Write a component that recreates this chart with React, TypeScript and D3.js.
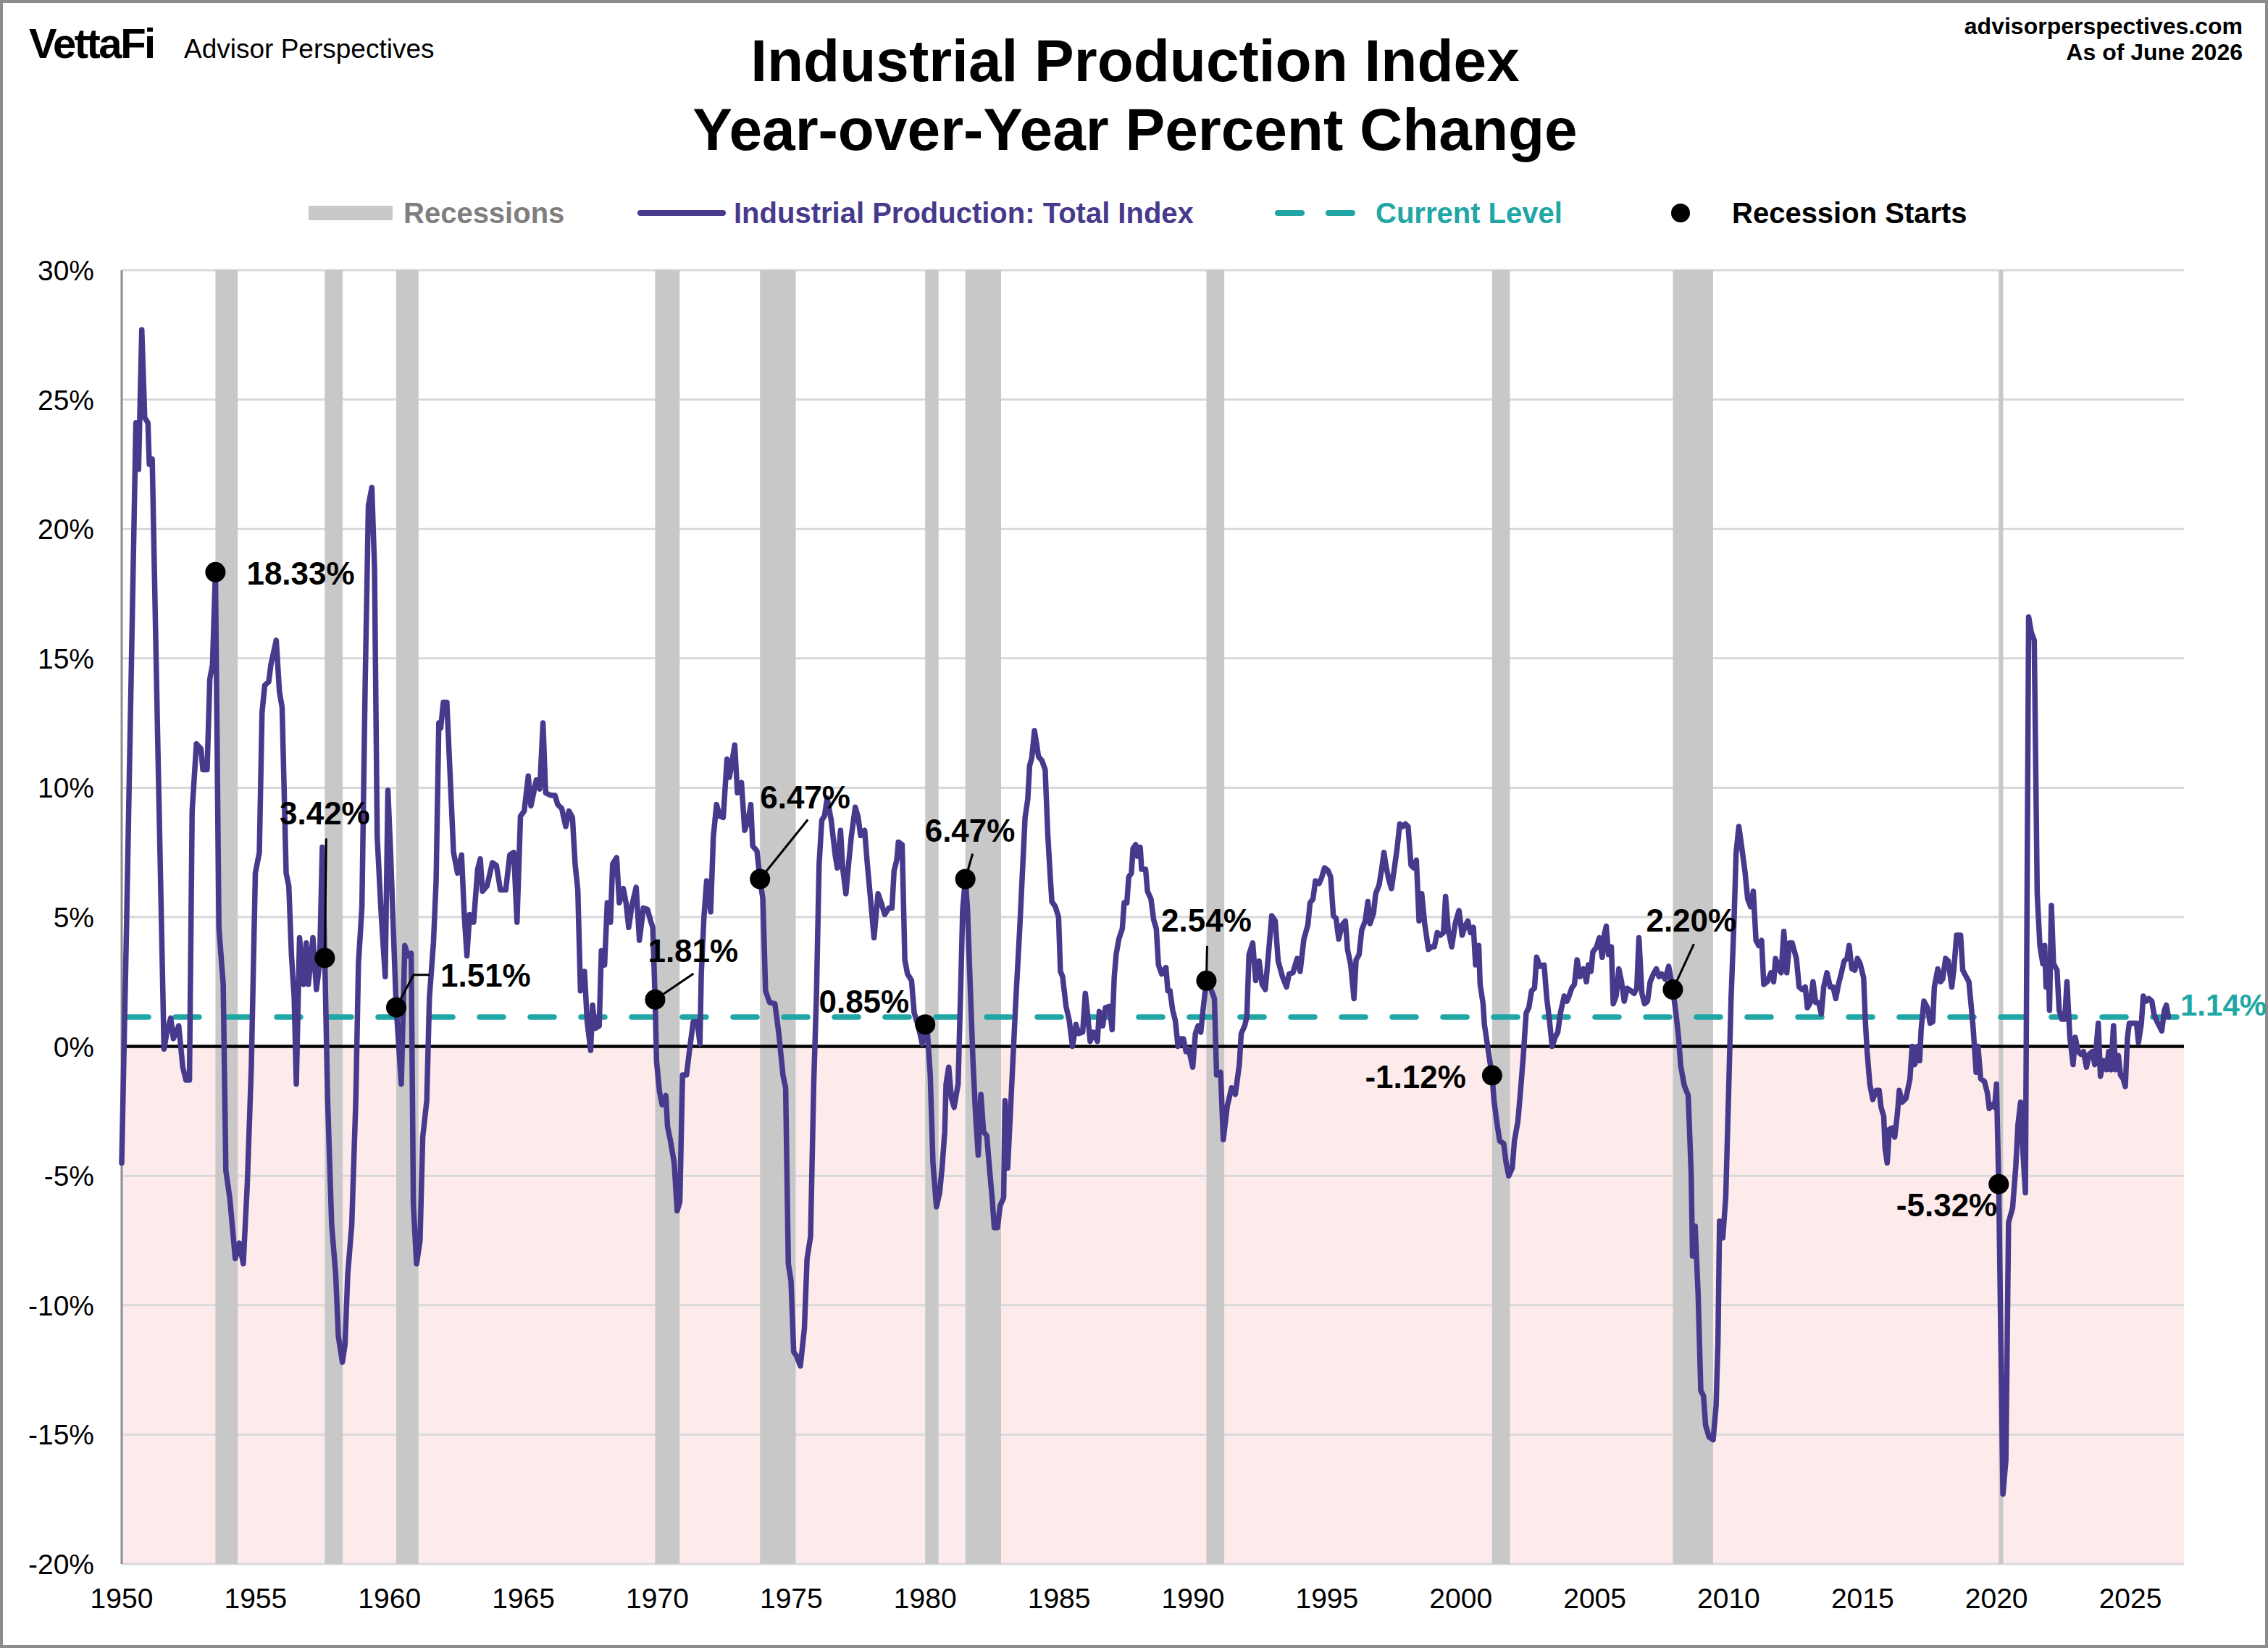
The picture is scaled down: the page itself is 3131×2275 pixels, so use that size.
import React, { useEffect, useRef } from 'react';
import * as d3 from 'd3';

type Pt = [number, number];

// Industrial Production YoY % (decimal year, percent)
const ip1950s: Pt[] = [
  [1950.0, -4.5], [1950.18, 4.6], [1950.53, 24.1], [1950.63, 22.3], [1950.75, 27.7], [1950.86, 24.3],
  [1950.98, 24.1], [1951.03, 22.5], [1951.14, 22.7], [1951.33, 12.6], [1951.58, -0.1], [1951.69, 0.55],
  [1951.83, 1.1], [1951.93, 0.3], [1952.13, 0.8], [1952.28, -0.8], [1952.4, -1.3], [1952.53, -1.3],
  [1952.63, 9.1], [1952.79, 11.7], [1952.96, 11.5], [1953.03, 10.7], [1953.19, 10.7], [1953.29, 14.2],
  [1953.39, 14.75], [1953.5, 18.33], [1953.63, 4.6], [1953.79, 2.4], [1953.89, -4.8], [1954.04, -5.9],
  [1954.24, -8.2], [1954.39, -7.6], [1954.54, -8.4], [1954.69, -5.3], [1954.84, -0.8], [1954.99, 6.7],
  [1955.14, 7.5], [1955.24, 12.9], [1955.34, 13.95], [1955.49, 14.1], [1955.57, 14.75], [1955.77, 15.7],
  [1955.89, 13.7], [1955.99, 13.1], [1956.14, 6.7], [1956.24, 6.2], [1956.34, 3.5], [1956.44, 1.9],
  [1956.52, -1.45], [1956.64, 4.2], [1956.79, 2.4], [1956.89, 4.0], [1956.97, 2.4], [1957.14, 4.2],
  [1957.27, 2.2], [1957.39, 3.2], [1957.49, 7.7], [1957.583, 3.42], [1957.69, -2.1], [1957.84, -6.9],
  [1957.99, -8.8], [1958.09, -11.2], [1958.24, -12.2], [1958.34, -11.5], [1958.44, -8.8], [1958.59, -6.9],
  [1958.74, -2.1], [1958.84, 3.2], [1958.97, 5.4], [1959.09, 13.95], [1959.21, 20.9], [1959.34, 21.6],
  [1959.44, 18.5], [1959.54, 8.1], [1959.69, 5.1], [1959.84, 2.7], [1959.94, 9.9],
];

const ip1960s: Pt[] = [
  [1960.04, 7.5], [1960.14, 4.6], [1960.25, 1.51], [1960.44, -1.45], [1960.57, 3.9], [1960.69, 3.5],
  [1960.81, 3.6], [1960.89, -6.1], [1961.01, -8.4], [1961.14, -7.5], [1961.24, -3.5], [1961.39, -2.1],
  [1961.49, 1.9], [1961.64, 4.0], [1961.74, 6.4], [1961.84, 12.5], [1961.91, 12.3], [1962.01, 13.3],
  [1962.14, 13.3], [1962.24, 11.0], [1962.39, 7.5], [1962.54, 6.7], [1962.69, 7.4], [1962.79, 5.1],
  [1962.89, 3.5], [1962.99, 5.1], [1963.14, 4.8], [1963.29, 6.85], [1963.39, 7.25], [1963.47, 6.0],
  [1963.64, 6.2], [1963.84, 7.1], [1963.99, 7.0], [1964.14, 6.05], [1964.34, 6.05], [1964.49, 7.4],
  [1964.64, 7.5], [1964.76, 4.8], [1964.89, 8.9], [1965.03, 9.1], [1965.18, 10.45], [1965.28, 9.3],
  [1965.48, 10.3], [1965.61, 9.95], [1965.73, 12.5], [1965.83, 9.8], [1966.03, 9.7], [1966.18, 9.7],
  [1966.28, 9.35], [1966.43, 9.2], [1966.58, 8.5], [1966.7, 9.1], [1966.83, 8.85], [1966.93, 7.05],
  [1967.03, 6.05], [1967.13, 2.15], [1967.28, 2.9], [1967.38, 0.95], [1967.51, -0.15], [1967.58, 1.6],
  [1967.68, 0.7], [1967.83, 0.8], [1967.91, 3.7], [1968.03, 3.15], [1968.13, 5.55], [1968.25, 4.8],
  [1968.33, 7.05], [1968.48, 7.3], [1968.58, 5.55], [1968.73, 6.1], [1968.83, 5.55], [1968.93, 4.6],
  [1969.05, 5.45], [1969.21, 6.15], [1969.33, 4.1], [1969.48, 5.35], [1969.63, 5.3], [1969.75, 4.85],
  [1969.83, 4.6], [1969.917, 1.81],
];

const ip1970s: Pt[] = [
  [1969.97, -0.57], [1970.08, -1.75], [1970.18, -2.25], [1970.32, -1.9], [1970.38, -3.1], [1970.48, -3.6],
  [1970.63, -4.5], [1970.74, -6.35], [1970.84, -6.0], [1970.94, -1.1], [1971.09, -1.1], [1971.19, -0.23],
  [1971.34, 0.95], [1971.49, 0.95], [1971.59, 0.1], [1971.64, 2.8], [1971.74, 5.0], [1971.84, 6.4],
  [1971.99, 5.2], [1972.09, 8.1], [1972.21, 9.35], [1972.33, 8.9], [1972.46, 8.85], [1972.6, 11.1],
  [1972.69, 10.4], [1972.78, 10.95], [1972.89, 11.65], [1972.99, 9.8], [1973.14, 10.2], [1973.26, 8.35],
  [1973.39, 8.75], [1973.49, 9.35], [1973.56, 7.75], [1973.72, 7.55], [1973.833, 6.47], [1973.94, 5.7],
  [1974.04, 2.15], [1974.19, 1.7], [1974.39, 1.65], [1974.54, 0.45], [1974.69, -1.1], [1974.79, -1.6],
  [1974.89, -8.4], [1974.99, -9.05], [1975.09, -11.8], [1975.19, -11.95], [1975.34, -12.35], [1975.49, -10.9],
  [1975.59, -8.2], [1975.72, -7.35], [1975.84, -1.4], [1975.94, 1.95], [1976.04, 7.05], [1976.14, 8.75],
  [1976.24, 8.9], [1976.34, 9.6], [1976.49, 8.75], [1976.64, 7.4], [1976.72, 6.9], [1976.84, 8.35],
  [1976.92, 6.9], [1977.04, 5.9], [1977.14, 7.05], [1977.24, 8.1], [1977.39, 9.25], [1977.49, 8.9],
  [1977.59, 8.15], [1977.74, 8.35], [1977.84, 7.05], [1977.96, 5.7], [1978.09, 4.2], [1978.24, 5.9],
  [1978.36, 5.55], [1978.49, 5.1], [1978.64, 5.35], [1978.76, 5.35], [1978.84, 6.8], [1978.94, 7.2],
  [1979.0, 7.9], [1979.14, 7.8], [1979.24, 3.35], [1979.34, 2.8], [1979.49, 2.55], [1979.59, 1.3],
  [1979.74, 0.8], [1979.89, 0.1],
];

const ip1980s: Pt[] = [
  [1980.0, 0.85], [1980.09, 0.45], [1980.19, -1.1], [1980.29, -4.5], [1980.42, -6.2], [1980.54, -5.65],
  [1980.63, -4.7], [1980.73, -3.3], [1980.78, -1.45], [1980.88, -0.8], [1980.98, -2.0], [1981.08, -2.35],
  [1981.23, -1.45], [1981.33, 2.4], [1981.4, 5.3], [1981.5, 6.47], [1981.58, 5.3], [1981.68, 2.4],
  [1981.78, -0.45], [1981.88, -2.6], [1981.98, -4.2], [1982.08, -1.85], [1982.18, -3.3], [1982.3, -3.45],
  [1982.4, -4.7], [1982.5, -5.85], [1982.58, -7.0], [1982.7, -7.0], [1982.8, -6.15], [1982.93, -5.85],
  [1982.98, -2.1], [1983.08, -4.7], [1983.18, -2.6], [1983.28, -0.45], [1983.38, 1.7], [1983.53, 4.55],
  [1983.63, 6.7], [1983.73, 8.85], [1983.83, 9.55], [1983.9, 10.85], [1983.98, 11.15], [1984.08, 12.2],
  [1984.16, 11.7], [1984.23, 11.2], [1984.36, 11.05], [1984.48, 10.7], [1984.58, 8.15], [1984.68, 6.4],
  [1984.73, 5.6], [1984.86, 5.4], [1984.98, 5.0], [1985.05, 2.9], [1985.13, 2.7], [1985.26, 1.55],
  [1985.38, 1.0], [1985.5, 0.0], [1985.63, 0.85], [1985.73, 0.5], [1985.88, 0.55], [1985.98, 2.05],
  [1986.05, 1.4], [1986.16, 0.2], [1986.28, 0.55], [1986.43, 0.2], [1986.5, 1.35], [1986.63, 0.8],
  [1986.73, 1.5], [1986.88, 1.55], [1986.98, 0.65], [1987.06, 2.7], [1987.13, 3.55], [1987.23, 4.15],
  [1987.36, 4.55], [1987.43, 5.55], [1987.53, 5.55], [1987.6, 6.55], [1987.7, 6.7], [1987.76, 7.65],
  [1987.86, 7.8], [1987.93, 7.35], [1988.03, 7.7], [1988.08, 6.85], [1988.23, 6.85], [1988.3, 6.0],
  [1988.43, 5.7], [1988.53, 4.9], [1988.63, 4.55], [1988.71, 3.15], [1988.83, 2.8], [1988.99, 3.05],
  [1989.06, 2.15], [1989.14, 2.15], [1989.24, 1.4], [1989.34, 1.0], [1989.44, 0.0], [1989.54, 0.3],
  [1989.64, 0.3], [1989.74, -0.2], [1989.84, -0.1], [1989.99, -0.8],
];

const ip1990s: Pt[] = [
  [1990.09, 0.5], [1990.19, 0.8], [1990.29, 0.55], [1990.39, 1.55], [1990.5, 2.54], [1990.64, 2.3],
  [1990.8, 1.85], [1990.88, -1.1], [1991.03, -1.0], [1991.13, -3.6], [1991.28, -2.3], [1991.44, -1.6],
  [1991.58, -1.85], [1991.73, -0.7], [1991.8, 0.5], [1991.93, 0.8], [1992.01, 1.15], [1992.09, 3.55],
  [1992.23, 4.0], [1992.34, 2.55], [1992.47, 3.3], [1992.58, 2.4], [1992.7, 2.2], [1992.84, 3.85],
  [1992.94, 5.05], [1993.07, 4.85], [1993.18, 3.3], [1993.34, 2.7], [1993.49, 2.3], [1993.59, 2.8],
  [1993.73, 2.85], [1993.89, 3.4], [1994.0, 2.9], [1994.14, 4.15], [1994.29, 4.7], [1994.37, 5.55],
  [1994.48, 5.7], [1994.57, 6.4], [1994.71, 6.3], [1994.81, 6.55], [1994.91, 6.9], [1995.04, 6.8],
  [1995.14, 6.55], [1995.24, 5.05], [1995.34, 4.95], [1995.44, 4.15], [1995.57, 4.7], [1995.69, 4.85],
  [1995.77, 3.75], [1995.89, 3.15], [1996.01, 1.85], [1996.09, 3.35], [1996.2, 3.55], [1996.3, 4.5],
  [1996.43, 4.85], [1996.53, 5.6], [1996.61, 4.75], [1996.74, 5.15], [1996.82, 5.9], [1996.95, 6.25],
  [1997.05, 6.9], [1997.13, 7.5], [1997.2, 7.0], [1997.31, 6.45], [1997.41, 6.1], [1997.52, 6.9],
  [1997.62, 7.65], [1997.72, 8.6], [1997.83, 8.5], [1997.93, 8.6], [1998.03, 8.5], [1998.14, 7.0],
  [1998.24, 6.9], [1998.34, 7.2], [1998.44, 4.85], [1998.54, 5.9], [1998.65, 4.75], [1998.79, 3.75],
  [1998.91, 3.85], [1999.01, 3.85], [1999.12, 4.4], [1999.24, 4.3], [1999.35, 4.4], [1999.43, 5.8],
  [1999.53, 4.5], [1999.66, 3.85], [1999.79, 4.75], [1999.93, 5.25],
];

const ip2000s: Pt[] = [
  [2000.05, 4.3], [2000.16, 4.65], [2000.26, 4.85], [2000.36, 4.4], [2000.47, 4.6], [2000.55, 3.15],
  [2000.67, 3.9], [2000.72, 2.4], [2000.83, 1.65], [2000.88, 0.85], [2000.98, 0.15], [2001.08, -0.55],
  [2001.167, -1.12], [2001.24, -2.1], [2001.34, -2.9], [2001.45, -3.65], [2001.6, -3.75], [2001.69, -4.5],
  [2001.79, -5.0], [2001.92, -4.7], [2002.0, -3.65], [2002.13, -2.9], [2002.23, -1.7], [2002.33, -0.4],
  [2002.44, 1.3], [2002.54, 1.5], [2002.64, 2.15], [2002.75, 2.25], [2002.83, 3.45], [2002.95, 3.1],
  [2003.11, 3.15], [2003.21, 1.85], [2003.31, 1.0], [2003.41, 0.0], [2003.52, 0.35], [2003.62, 0.55],
  [2003.72, 1.3], [2003.86, 1.95], [2003.96, 1.75], [2004.04, 1.95], [2004.14, 2.25], [2004.24, 2.4],
  [2004.34, 3.35], [2004.45, 2.7], [2004.58, 3.0], [2004.69, 2.5], [2004.76, 3.15], [2004.86, 2.9],
  [2004.93, 3.65], [2005.07, 3.85], [2005.17, 4.2], [2005.28, 3.45], [2005.35, 4.3], [2005.43, 4.65],
  [2005.51, 3.55], [2005.62, 3.85], [2005.69, 1.65], [2005.8, 1.95], [2005.9, 3.0], [2006.0, 2.5],
  [2006.1, 1.75], [2006.21, 2.25], [2006.35, 2.15], [2006.47, 2.05], [2006.57, 2.25], [2006.65, 4.2],
  [2006.76, 2.05], [2006.86, 1.65], [2006.97, 1.75], [2007.07, 2.5], [2007.19, 2.8], [2007.3, 3.0],
  [2007.4, 2.7], [2007.5, 2.8], [2007.63, 2.6], [2007.76, 3.1], [2007.917, 2.2], [2008.03, 1.3],
  [2008.13, 0.35], [2008.21, -0.75], [2008.34, -1.5], [2008.49, -1.9], [2008.6, -4.9], [2008.65, -8.1],
  [2008.75, -6.95], [2008.86, -9.6], [2008.96, -13.3], [2009.06, -13.5], [2009.14, -14.65], [2009.27, -15.1],
  [2009.42, -15.2], [2009.53, -13.9], [2009.6, -11.45], [2009.66, -6.75], [2009.78, -7.4], [2009.89, -5.85],
  [2009.99, -2.1],
];

const ip2010s: Pt[] = [
  [2010.09, 1.85], [2010.2, 4.85], [2010.28, 7.5], [2010.38, 8.5], [2010.5, 7.6], [2010.61, 6.75],
  [2010.71, 5.7], [2010.82, 5.4], [2010.92, 6.0], [2011.02, 4.1], [2011.12, 3.9], [2011.23, 4.1],
  [2011.31, 2.4], [2011.44, 2.5], [2011.58, 2.85], [2011.68, 2.5], [2011.75, 3.4], [2011.89, 2.95],
  [2011.96, 2.85], [2012.06, 4.45], [2012.17, 2.85], [2012.27, 4.0], [2012.37, 4.0], [2012.53, 3.4],
  [2012.63, 2.3], [2012.74, 2.2], [2012.86, 2.3], [2012.94, 1.5], [2013.05, 1.7], [2013.15, 2.5],
  [2013.25, 1.7], [2013.36, 1.7], [2013.46, 1.25], [2013.55, 2.3], [2013.67, 2.85], [2013.79, 2.3],
  [2013.9, 2.3], [2014.0, 1.85], [2014.1, 2.4], [2014.21, 2.85], [2014.31, 3.3], [2014.42, 3.4],
  [2014.5, 3.9], [2014.6, 3.0], [2014.71, 2.95], [2014.81, 3.4], [2014.91, 3.2], [2015.04, 2.65],
  [2015.1, 1.05], [2015.17, -0.2], [2015.27, -1.45], [2015.38, -2.05], [2015.51, -1.7], [2015.62, -1.7],
  [2015.69, -2.35], [2015.79, -2.7], [2015.84, -3.95], [2015.92, -4.5], [2016.0, -3.2], [2016.1, -3.15],
  [2016.2, -3.5], [2016.3, -2.6], [2016.37, -1.7], [2016.48, -2.15], [2016.62, -2.0], [2016.77, -1.25],
  [2016.85, 0.0], [2016.95, -0.7], [2017.06, 0.0], [2017.13, -0.55], [2017.19, 0.7], [2017.29, 1.75],
  [2017.42, 1.5], [2017.52, 0.9], [2017.62, 0.95], [2017.68, 2.3], [2017.81, 3.0], [2017.91, 2.5],
  [2017.99, 2.6], [2018.1, 3.4], [2018.2, 3.3], [2018.33, 2.3], [2018.41, 3.0], [2018.51, 4.3],
  [2018.66, 4.3], [2018.74, 2.95], [2018.84, 2.75], [2018.97, 2.5], [2019.07, 1.4], [2019.13, 0.7],
  [2019.24, -1.0], [2019.31, 0.0], [2019.41, -1.25], [2019.55, -1.35], [2019.66, -1.8], [2019.73, -2.4],
  [2019.83, -2.25], [2019.93, -2.35],
];

const ip2020s: Pt[] = [
  [2020.0, -1.45], [2020.083, -5.32], [2020.24, -17.3], [2020.35, -16.0], [2020.45, -6.8], [2020.6, -6.25],
  [2020.72, -4.65], [2020.8, -3.05], [2020.9, -2.15], [2020.98, -3.95], [2021.08, -5.65], [2021.2, 16.6],
  [2021.3, 16.0], [2021.41, 15.7], [2021.52, 5.9], [2021.62, 3.9], [2021.73, 3.2], [2021.8, 3.9],
  [2021.85, 2.3], [2021.93, 3.4], [2021.98, 1.4], [2022.05, 5.45], [2022.13, 3.2], [2022.26, 2.95],
  [2022.34, 1.4], [2022.44, 1.05], [2022.55, 1.05], [2022.63, 2.5], [2022.74, 0.35], [2022.86, -0.7],
  [2022.94, 0.35], [2023.05, -0.2], [2023.15, -0.3], [2023.25, -0.2], [2023.36, -0.8], [2023.46, -0.3],
  [2023.58, -0.2], [2023.67, -0.7], [2023.8, 0.9], [2023.88, -1.15], [2024.0, -0.55], [2024.11, -0.9],
  [2024.19, -0.2], [2024.27, -0.9], [2024.37, 0.8], [2024.44, -0.9], [2024.55, -0.35], [2024.63, -1.1],
  [2024.73, -1.25], [2024.81, -1.55], [2024.89, 0.35], [2024.96, 0.9], [2025.1, 0.9], [2025.23, 0.9],
  [2025.3, 0.15], [2025.41, 0.9], [2025.48, 1.95], [2025.59, 1.75], [2025.69, 1.85], [2025.8, 1.75],
  [2025.88, 1.25], [2026.0, 0.95], [2026.17, 0.6], [2026.27, 1.4], [2026.34, 1.6], [2026.42, 1.14],
];

// NBER recessions (start, end) in decimal years
const recessions: [number, number][] = [
  [1953.5, 1954.333], [1957.583, 1958.25], [1960.25, 1961.083], [1969.917, 1970.833],
  [1973.833, 1975.167], [1980.0, 1980.5], [1981.5, 1982.833], [1990.5, 1991.167],
  [2001.167, 2001.833], [2007.917, 2009.417], [2020.083, 2020.25],
];

const startDates = [1953.5, 1957.583, 1960.25, 1969.917, 1973.833, 1980.0, 1981.5, 1990.5, 2001.167, 2007.917, 2020.083];
const startValues = [18.33, 3.42, 1.51, 1.81, 6.47, 0.85, 6.47, 2.54, -1.12, 2.2, -5.32];

const currentLevel = 1.14;
const yTicks = [-20, -15, -10, -5, 0, 5, 10, 15, 20, 25, 30];
const xTicks = [1950, 1955, 1960, 1965, 1970, 1975, 1980, 1985, 1990, 1995, 2000, 2005, 2010, 2015, 2020, 2025];

// label placement relative to each dot (pixels)
const labelLayout: { dx: number; dy: number; anchor: string; leader?: [number, number][] }[] = [
  { dx: 43, dy: 17, anchor: 'start' },
  { dx: 0, dy: -184, anchor: 'middle', leader: [[0, 0], [2, -165]] },
  { dx: 61, dy: -29, anchor: 'start', leader: [[0, 0], [24, -45], [46, -45]] },
  { dx: -10, dy: -52, anchor: 'start', leader: [[0, 0], [53, -36]] },
  { dx: 0, dy: -97, anchor: 'start', leader: [[0, 0], [66, -82]] },
  { dx: -22, dy: -16, anchor: 'end' },
  { dx: -56, dy: -51, anchor: 'start', leader: [[0, 0], [10, -35]] },
  { dx: 0, dy: -68, anchor: 'middle', leader: [[0, 0], [1, -48]] },
  { dx: -36, dy: 17, anchor: 'end' },
  { dx: -37, dy: -80, anchor: 'start', leader: [[0, 0], [29, -63]] },
  { dx: -2, dy: 44, anchor: 'end' },
];

const PURPLE = '#47398c';
const TEAL = '#21a6a6';
const FONT = '"Liberation Sans", Arial, Helvetica, sans-serif';

const App = () => {
  const svgRef = useRef<SVGSVGElement | null>(null);

  useEffect(() => {
    document.body.style.margin = '0';
    if (!svgRef.current) return;
    const svg = d3.select(svgRef.current);
    svg.selectAll('*').remove();

    const width = 3131;
    const height = 2275;
    const plot = { left: 168, right: 3015, top: 373, bottom: 2159 };

    const x = d3.scaleLinear().domain([1950, 2027]).range([plot.left, plot.right]);
    const y = d3.scaleLinear().domain([-20, 30]).range([plot.bottom, plot.top]);

    const series: Pt[] = [...ip1950s, ...ip1960s, ...ip1970s, ...ip1980s, ...ip1990s, ...ip2000s, ...ip2010s, ...ip2020s];

    svg.append('rect').attr('width', width).attr('height', height).attr('fill', '#fff');
    svg.append('rect')
      .attr('x', 2).attr('y', 2).attr('width', width - 4).attr('height', height - 4)
      .attr('fill', 'none').attr('stroke', '#8c8c8c').attr('stroke-width', 4);

    // negative zone
    svg.append('rect')
      .attr('x', plot.left).attr('y', y(0))
      .attr('width', plot.right - plot.left).attr('height', y(-20) - y(0))
      .attr('fill', '#fdebeb');

    // gridlines
    svg.append('g').selectAll('line').data(yTicks).enter().append('line')
      .attr('x1', plot.left).attr('x2', plot.right)
      .attr('y1', d => y(d)).attr('y2', d => y(d))
      .attr('stroke', '#d9d9d9').attr('stroke-width', 3);

    // recession bars
    svg.append('g').selectAll('rect').data(recessions).enter().append('rect')
      .attr('x', d => x(d[0])).attr('width', d => x(d[1]) - x(d[0]))
      .attr('y', y(30)).attr('height', y(-20) - y(30))
      .attr('fill', '#c8c8c8');

    // left axis
    svg.append('line')
      .attr('x1', plot.left).attr('x2', plot.left).attr('y1', y(30)).attr('y2', y(-20))
      .attr('stroke', '#8c8c8c').attr('stroke-width', 3);

    // zero line
    svg.append('line')
      .attr('x1', plot.left).attr('x2', plot.right).attr('y1', y(0)).attr('y2', y(0))
      .attr('stroke', '#000').attr('stroke-width', 4.5);

    // current level
    svg.append('line')
      .attr('x1', plot.left + 4).attr('x2', plot.right).attr('y1', y(currentLevel)).attr('y2', y(currentLevel))
      .attr('stroke', TEAL).attr('stroke-width', 7.5)
      .attr('stroke-dasharray', '33 37').attr('stroke-linecap', 'round');

    svg.append('text')
      .attr('x', 3010).attr('y', y(currentLevel) - 2)
      .attr('font-family', FONT).attr('font-size', 42).attr('font-weight', 'bold')
      .attr('fill', TEAL).text(`${currentLevel.toFixed(2)}%`);

    // data line
    const line = d3.line<Pt>().x(d => x(d[0])).y(d => y(d[1]));
    svg.append('path')
      .datum(series)
      .attr('fill', 'none').attr('stroke', PURPLE).attr('stroke-width', 7.5)
      .attr('stroke-linejoin', 'round').attr('stroke-linecap', 'round')
      .attr('d', line);

    // recession start markers
    const marks = svg.append('g');
    startDates.forEach((date, i) => {
      const cx = x(date);
      const cy = y(startValues[i]);
      const lay = labelLayout[i];
      if (lay.leader) {
        marks.append('polyline')
          .attr('points', lay.leader.map(p => `${cx + p[0]},${cy + p[1]}`).join(' '))
          .attr('fill', 'none').attr('stroke', '#000').attr('stroke-width', 3);
      }
      marks.append('circle').attr('cx', cx).attr('cy', cy).attr('r', 14).attr('fill', '#000');
      marks.append('text')
        .attr('x', cx + lay.dx).attr('y', cy + lay.dy)
        .attr('text-anchor', lay.anchor)
        .attr('font-family', FONT).attr('font-size', 44).attr('font-weight', 'bold')
        .attr('fill', '#000')
        .text(`${startValues[i].toFixed(2)}%`);
    });

    // axis labels
    svg.append('g').selectAll('text').data(yTicks).enter().append('text')
      .attr('x', 130).attr('y', d => y(d) + 14)
      .attr('text-anchor', 'end')
      .attr('font-family', FONT).attr('font-size', 39).attr('fill', '#000')
      .text(d => `${d}%`);

    svg.append('g').selectAll('text').data(xTicks).enter().append('text')
      .attr('x', d => x(d)).attr('y', 2220)
      .attr('text-anchor', 'middle')
      .attr('font-family', FONT).attr('font-size', 39).attr('fill', '#000')
      .text(d => String(d));

    // title
    svg.append('text')
      .attr('x', 1567).attr('y', 112).attr('text-anchor', 'middle')
      .attr('font-family', FONT).attr('font-size', 82).attr('font-weight', 'bold')
      .text('Industrial Production Index');
    svg.append('text')
      .attr('x', 1567).attr('y', 207).attr('text-anchor', 'middle')
      .attr('font-family', FONT).attr('font-size', 82).attr('font-weight', 'bold')
      .text('Year-over-Year Percent Change');

    // header left
    svg.append('text')
      .attr('x', 40).attr('y', 80)
      .attr('font-family', FONT).attr('font-size', 58).attr('font-weight', 'bold')
      .attr('letter-spacing', -2.5)
      .text('VettaFi');
    svg.append('text')
      .attr('x', 254).attr('y', 80)
      .attr('font-family', FONT).attr('font-size', 37)
      .text('Advisor Perspectives');

    // header right
    svg.append('text')
      .attr('x', 3096).attr('y', 47).attr('text-anchor', 'end')
      .attr('font-family', FONT).attr('font-size', 32).attr('font-weight', 'bold')
      .text('advisorperspectives.com');
    svg.append('text')
      .attr('x', 3096).attr('y', 83).attr('text-anchor', 'end')
      .attr('font-family', FONT).attr('font-size', 32).attr('font-weight', 'bold')
      .text('As of June 2026');

    // legend
    const lg = svg.append('g').attr('font-family', FONT).attr('font-size', 40).attr('font-weight', 'bold');
    const ly = 294;
    lg.append('rect').attr('x', 426).attr('y', ly - 10).attr('width', 116).attr('height', 20).attr('fill', '#c8c8c8');
    lg.append('text').attr('x', 557).attr('y', ly + 14).attr('fill', '#7f7f7f').text('Recessions');

    lg.append('line').attr('x1', 884).attr('x2', 998).attr('y1', ly).attr('y2', ly)
      .attr('stroke', PURPLE).attr('stroke-width', 8).attr('stroke-linecap', 'round');
    lg.append('text').attr('x', 1013).attr('y', ly + 14).attr('fill', PURPLE).text('Industrial Production: Total Index');

    lg.append('line').attr('x1', 1764).attr('x2', 1872).attr('y1', ly).attr('y2', ly)
      .attr('stroke', TEAL).attr('stroke-width', 8)
      .attr('stroke-dasharray', '33 37').attr('stroke-linecap', 'round');
    lg.append('text').attr('x', 1899).attr('y', ly + 14).attr('fill', TEAL).text('Current Level');

    lg.append('circle').attr('cx', 2320).attr('cy', ly).attr('r', 13).attr('fill', '#000');
    lg.append('text').attr('x', 2391).attr('y', ly + 14).attr('fill', '#000').text('Recession Starts');
  }, []);

  return (
    <svg ref={svgRef} width={3131} height={2275} style={{ display: 'block' }}></svg>
  );
};

export default App;
